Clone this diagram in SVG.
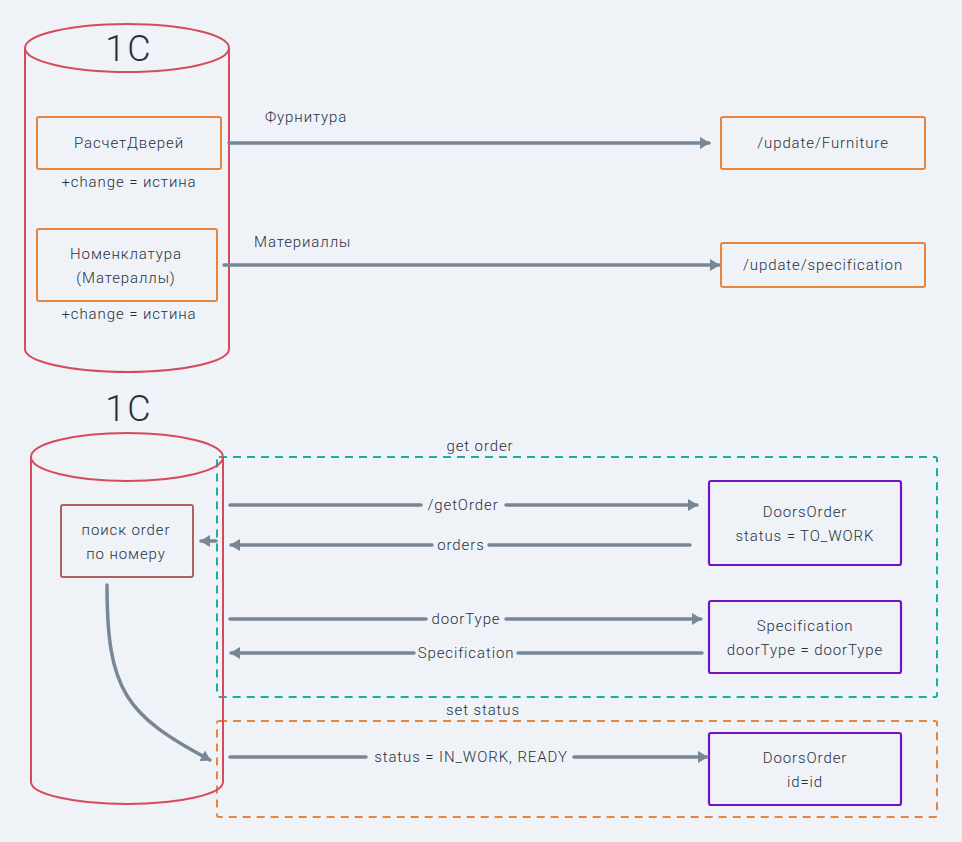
<svg xmlns="http://www.w3.org/2000/svg" width="962" height="842" viewBox="0 0 962 842">
<style>
text{font-family:Roboto,"Liberation Sans",sans-serif;font-weight:300;fill:#26313f;font-size:15px;letter-spacing:0.9px}
.big{font-size:36px;letter-spacing:2px}
.cyl{fill:none;stroke:#d64a5c;stroke-width:2}
.obox{fill:none;stroke:#e8853d;stroke-width:2}
.pbox{fill:none;stroke:#7313c2;stroke-width:2.2}
.rbox{fill:none;stroke:#b06060;stroke-width:2}
.con{fill:none;stroke:#788796;stroke-width:3.5;stroke-linecap:round}
.gteal{fill:none;stroke:#1aae9c;stroke-width:2;stroke-dasharray:8 6}
.gorange{fill:none;stroke:#e8853d;stroke-width:2;stroke-dasharray:8 6}
</style>
<defs>
<marker id="ah" viewBox="0 0 10 12" refX="9" refY="6" markerWidth="10" markerHeight="12" markerUnits="userSpaceOnUse" orient="auto"><path d="M0,0 L10,6 L0,12 z" fill="#788796"/></marker>
</defs>
<rect width="962" height="842" fill="#eff3f7"/>

<g id="groups">
<g id="get-order"><rect class="gteal" x="217" y="457" width="720" height="240" rx="2"/><text x="480" y="451" text-anchor="middle">get order</text></g>
<g id="set-status"><rect class="gorange" x="217" y="721" width="720" height="96" rx="2"/><text x="483" y="715" text-anchor="middle">set status</text></g>
</g>

<g id="db1">
<path class="cyl" d="M25,48 L25,349 A102,23 0 0 0 229,349 L229,48"/>
<ellipse class="cyl" cx="127" cy="48" rx="102" ry="24"/>
<text class="big" x="129" y="61" text-anchor="middle">1C</text>
</g>
<g id="raschet"><rect class="obox" x="37" y="117" width="184" height="52" rx="2"/><text x="129" y="148" text-anchor="middle">РасчетДверей</text><text x="129" y="187" text-anchor="middle">+change = истина</text></g>
<g id="nomenklatura"><rect class="obox" x="37" y="229" width="180" height="72" rx="2"/><text x="126" y="259" text-anchor="middle">Номенклатура</text><text x="126" y="283" text-anchor="middle">(Матераллы)</text><text x="129" y="319" text-anchor="middle">+change = истина</text></g>
<g id="furniture"><rect class="obox" x="721" y="117" width="204" height="52" rx="2"/><text x="823" y="148" text-anchor="middle">/update/Furniture</text></g>
<g id="specification-ep"><rect class="obox" x="721" y="243" width="204" height="44" rx="2"/><text x="823" y="270" text-anchor="middle">/update/specification</text></g>

<g id="db2">
<text class="big" x="129" y="421" text-anchor="middle">1C</text>
<path class="cyl" d="M31,457 L31,782 A96,22 0 0 0 223,782 L223,457"/>
<ellipse class="cyl" cx="127" cy="457" rx="96" ry="24"/>
</g>
<g id="poisk"><rect class="rbox" x="61" y="505" width="132" height="72" rx="2"/><text x="126" y="535" text-anchor="middle">поиск order</text><text x="126" y="559" text-anchor="middle">по номеру</text></g>
<g id="doorsorder1"><rect class="pbox" x="709" y="481" width="192" height="84" rx="2"/><text x="805" y="517" text-anchor="middle">DoorsOrder</text><text x="805" y="541" text-anchor="middle">status = TO_WORK</text></g>
<g id="spec"><rect class="pbox" x="709" y="601" width="192" height="72" rx="2"/><text x="805" y="631" text-anchor="middle">Specification</text><text x="805" y="655" text-anchor="middle">doorType = doorType</text></g>
<g id="doorsorder2"><rect class="pbox" x="709" y="733" width="192" height="72" rx="2"/><text x="805" y="763" text-anchor="middle">DoorsOrder</text><text x="805" y="787" text-anchor="middle">id=id</text></g>

<g id="connectors">
<line class="con" x1="229" y1="143" x2="709" y2="143" marker-end="url(#ah)"/>
<text x="265" y="122">Фурнитура</text>
<line class="con" x1="224" y1="265" x2="719" y2="265" marker-end="url(#ah)"/>
<text x="254" y="247">Материаллы</text>

<path class="con" d="M230,505 H421 M506,505 H697" marker-end="url(#ah)"/>
<text x="463" y="510" text-anchor="middle">/getOrder</text>
<path class="con" d="M690,545 H489 M432,545 H231" marker-end="url(#ah)"/>
<text x="461" y="550" text-anchor="middle">orders</text>
<line class="con" x1="216" y1="541" x2="201" y2="541" marker-end="url(#ah)"/>
<path class="con" d="M230,619 H426 M506,619 H701" marker-end="url(#ah)"/>
<text x="466" y="624" text-anchor="middle">doorType</text>
<path class="con" d="M702,653 H518 M414,653 H231" marker-end="url(#ah)"/>
<text x="466" y="658" text-anchor="middle">Specification</text>
<path class="con" d="M230,757 H366 M574,757 H707" marker-end="url(#ah)"/>
<text x="471" y="762" text-anchor="middle">status = IN_WORK, READY</text>
<path class="con" d="M107,585 C107,690 125,715 210,760" marker-end="url(#ah)"/>
</g>
</svg>
